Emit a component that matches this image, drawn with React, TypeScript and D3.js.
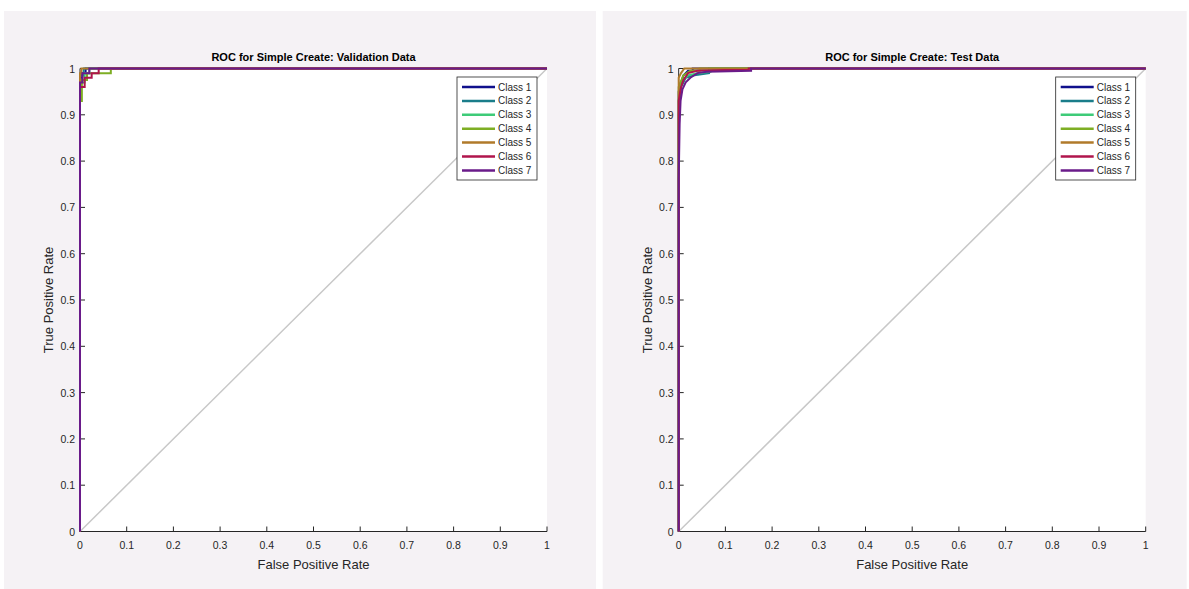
import React from "react";
import * as d3 from "d3";

type Pt = [number, number];

const classNames = ["Class 1", "Class 2", "Class 3", "Class 4", "Class 5", "Class 6", "Class 7"];
const classColors = ["#10108c", "#1a7d8a", "#3ecb78", "#7eae24", "#b07a2a", "#b0154c", "#6a1b8a"];
const xTicks = [0, 0.1, 0.2, 0.3, 0.4, 0.5, 0.6, 0.7, 0.8, 0.9, 1];
const yTicks = [0, 0.1, 0.2, 0.3, 0.4, 0.5, 0.6, 0.7, 0.8, 0.9, 1];

// Validation data ROC points per class
const valClass1: Pt[] = [[0, 0], [0, 0.98], [0.005, 0.98], [0.005, 0.99], [0.012, 0.99], [0.012, 1], [1, 1]];
const valClass2: Pt[] = [[0, 0], [0, 0.985], [0.008, 0.985], [0.008, 1], [1, 1]];
const valClass3: Pt[] = [[0, 0], [0, 0.97], [0.01, 0.97], [0.01, 0.99], [0.02, 0.99], [0.02, 1], [1, 1]];
const valClass4: Pt[] = [[0, 0], [0, 0.93], [0.004, 0.93], [0.004, 0.975], [0.015, 0.975], [0.015, 0.99], [0.066, 0.99], [0.066, 1], [1, 1]];
const valClass5: Pt[] = [[0, 0], [0, 0.99], [0.003, 0.99], [0.003, 1], [1, 1]];
const valClass6: Pt[] = [[0, 0], [0, 0.96], [0.01, 0.96], [0.01, 0.98], [0.025, 0.98], [0.025, 0.99], [0.04, 0.99], [0.04, 1], [1, 1]];
const valClass7: Pt[] = [[0, 0], [0, 0.97], [0.005, 0.97], [0.005, 0.99], [0.02, 0.99], [0.02, 1], [1, 1]];

// Test data ROC points per class
const testClass1: Pt[] = [[0, 0], [0, 0.95], [0.005, 0.97], [0.01, 0.985], [0.02, 0.995], [0.03, 0.995], [0.03, 1], [1, 1]];
const testClass2: Pt[] = [[0, 0], [0, 0.9], [0.005, 0.96], [0.015, 0.98], [0.03, 0.985], [0.065, 0.99], [0.065, 1], [1, 1]];
const testClass3: Pt[] = [[0, 0], [0, 0.93], [0.004, 0.97], [0.02, 0.985], [0.04, 0.99], [0.068, 0.993], [0.068, 1], [1, 1]];
const testClass4: Pt[] = [[0, 0], [0, 0.96], [0.01, 0.985], [0.025, 0.995], [0.045, 0.995], [0.045, 1], [1, 1]];
const testClass5: Pt[] = [[0, 0], [0, 0.98], [0.005, 0.99], [0.012, 1], [1, 1]];
const testClass6: Pt[] = [[0, 0], [0, 0.93], [0.005, 0.96], [0.01, 0.975], [0.02, 0.99], [0.04, 0.995], [0.1, 0.997], [0.15, 0.997], [0.15, 1], [1, 1]];
const testClass7: Pt[] = [[0, 0], [0, 0.76], [0.002, 0.88], [0.004, 0.93], [0.008, 0.955], [0.015, 0.97], [0.025, 0.98], [0.04, 0.99], [0.06, 0.993], [0.155, 0.995], [0.155, 1], [1, 1]];

const validationSeries = [valClass1, valClass2, valClass3, valClass4, valClass5, valClass6, valClass7];
const testSeries = [testClass1, testClass2, testClass3, testClass4, testClass5, testClass6, testClass7];

const FONT = "'Liberation Sans', Arial, Helvetica, sans-serif";
const AXIS_COLOR = "#262626";

function Panel({ px, pw, title, series }: { px: number; pw: number; title: string; series: Pt[][] }) {
  const x0 = px + 76;
  const x1 = x0 + 467;
  const yTop = 68.5;
  const yBot = 531.5;
  const x = d3.scaleLinear().domain([0, 1]).range([x0, x1]);
  const y = d3.scaleLinear().domain([0, 1]).range([yBot, yTop]);
  const line = d3.line<Pt>().x((d) => x(d[0])).y((d) => y(d[1]));
  const cx = (x0 + x1) / 2;
  const lgX = x0 + 377;
  const lgY = 77;
  const rowH = 13.9;
  return (
    <g>
      <rect x={px} y={11} width={pw} height={578} fill="#f5f2f5" />
      <rect x={x0} y={yTop} width={x1 - x0} height={yBot - yTop} fill="#ffffff" />
      <text x={cx} y={61} textAnchor="middle" fontFamily={FONT} fontWeight="bold" fontSize={11} fill="#000">
        {title}
      </text>
      <line x1={x(0)} y1={y(0)} x2={x(1)} y2={y(1)} stroke="#c8c8c8" strokeWidth={1.5} />
      {/* axes */}
      <line x1={x0} y1={yBot} x2={x1} y2={yBot} stroke={AXIS_COLOR} strokeWidth={1} />
      <line x1={x0} y1={yBot} x2={x0} y2={yTop} stroke={AXIS_COLOR} strokeWidth={1} />
      {xTicks.map((t) => (
        <g key={"x" + t}>
          <line x1={x(t)} x2={x(t)} y1={yBot} y2={yBot - 5} stroke={AXIS_COLOR} />
          <text x={x(t)} y={549} textAnchor="middle" fontFamily={FONT} fontSize={10.5} fill={AXIS_COLOR}>
            {d3.format("~g")(t)}
          </text>
        </g>
      ))}
      {yTicks.map((t) => (
        <g key={"y" + t}>
          <line x1={x0} x2={x0 + 5} y1={y(t)} y2={y(t)} stroke={AXIS_COLOR} />
          <text x={x0 - 5} y={y(t) + 4} textAnchor="end" fontFamily={FONT} fontSize={10.5} fill={AXIS_COLOR}>
            {d3.format("~g")(t)}
          </text>
        </g>
      ))}
      {series.map((s, i) => (
        <path key={i} d={line(s) || ""} fill="none" stroke={classColors[i]} strokeWidth={2} strokeLinejoin="miter" />
      ))}
      <text x={cx} y={569} textAnchor="middle" fontFamily={FONT} fontSize={13} fill={AXIS_COLOR}>
        False Positive Rate
      </text>
      <text
        transform={`translate(${x0 - 27},${(yTop + yBot) / 2}) rotate(-90)`}
        textAnchor="middle"
        fontFamily={FONT}
        fontSize={13}
        fill={AXIS_COLOR}
      >
        True Positive Rate
      </text>
      {/* legend */}
      <rect x={lgX} y={lgY} width={80} height={103} fill="#ffffff" stroke={AXIS_COLOR} strokeWidth={0.8} />
      {classNames.map((c, i) => (
        <g key={c}>
          <line
            x1={lgX + 5}
            x2={lgX + 38}
            y1={lgY + 10 + i * rowH}
            y2={lgY + 10 + i * rowH}
            stroke={classColors[i]}
            strokeWidth={2.5}
          />
          <text x={lgX + 41} y={lgY + 13.5 + i * rowH} fontFamily={FONT} fontSize={10} fill={AXIS_COLOR}>
            {c}
          </text>
        </g>
      ))}
    </g>
  );
}

export default function App() {
  return (
    <svg
      width={1189}
      height={589}
      style={{ position: "absolute", left: 0, top: 0, background: "#ffffff" }}
    >
      <rect x={0} y={0} width={1189} height={589} fill="#ffffff" />
      <Panel px={4} pw={592} title="ROC for Simple Create: Validation Data" series={validationSeries} />
      <Panel px={602.7} pw={584} title="ROC for Simple Create: Test Data" series={testSeries} />
    </svg>
  );
}
